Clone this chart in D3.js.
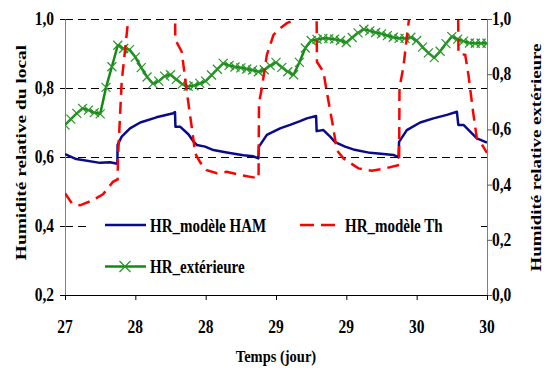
<!DOCTYPE html>
<html>
<head>
<meta charset="utf-8">
<script src="https://cdn.jsdelivr.net/npm/d3@7"></script>
<style>
html,body{margin:0;padding:0;background:#fff;}
svg{display:block;}
text{font-family:"Liberation Serif","Times New Roman",serif;font-weight:bold;fill:#000;}
</style>
</head>
<body>
<svg id="chart" width="551" height="370"></svg>
<script>
// ---------- data ----------
const xTickValues = [27, 27.5, 28, 28.5, 29, 29.5, 30];
const xTickLabels = ["27", "28", "28", "29", "29", "30", "30"];
const leftTickValues = [0.2, 0.4, 0.6, 0.8, 1.0];
const leftTickLabels = ["0,2", "0,4", "0,6", "0,8", "1,0"];
const rightTickValues = [0, 0.2, 0.4, 0.6, 0.8, 1.0];
const rightTickLabels = ["0,0", "0,2", "0,4", "0,6", "0,8", "1,0"];
const gridValues = [0.4, 0.6, 0.8, 1.0];

// HR_modèle HAM (left axis)
const hamTime = [27.000, 27.080, 27.249, 27.320, 27.355, 27.372, 27.374, 27.403, 27.462, 27.535, 27.650, 27.770, 27.782,
  27.785, 27.818, 27.877, 27.913, 27.937, 27.996, 28.055, 28.150, 28.268, 28.339, 28.375,
  28.379, 28.435, 28.529, 28.600, 28.671, 28.719, 28.785,
  28.789, 28.837, 28.885, 28.920, 28.991, 29.050, 29.169, 29.264, 29.335, 29.371,
  29.375, 29.430, 29.525, 29.619, 29.715, 29.786,
  29.796, 29.833, 29.928, 30.000];
const hamValue = [0.608, 0.594, 0.583, 0.585, 0.582, 0.580, 0.635, 0.659, 0.683, 0.700, 0.715, 0.727, 0.730,
  0.688, 0.688, 0.666, 0.645, 0.635, 0.630, 0.620, 0.613, 0.605, 0.602, 0.596,
  0.630, 0.664, 0.683, 0.693, 0.704, 0.712, 0.719,
  0.675, 0.678, 0.659, 0.643, 0.630, 0.622, 0.612, 0.609, 0.606, 0.599,
  0.644, 0.678, 0.700, 0.712, 0.722, 0.731,
  0.693, 0.693, 0.654, 0.642];

// HR_modèle Th (left axis)
const thTime = [27.000, 27.050, 27.107, 27.199, 27.270, 27.306, 27.341, 27.374, 27.377, 27.403, 27.450, 27.500,
  27.781, 27.784, 27.830, 27.866, 27.912, 27.925, 27.960, 28.008, 28.079, 28.150, 28.245, 28.339, 28.376,
  28.379, 28.399, 28.435, 28.482, 28.529, 28.577, 28.648, 28.700,
  28.788, 28.791, 28.837, 28.861, 28.908, 28.932, 28.979, 29.086, 29.181, 29.276, 29.375,
  29.378, 29.406, 29.442, 29.468,
  29.794, 29.797, 29.845, 29.868, 29.904, 29.928, 29.952, 30.000];
const thValue = [0.495, 0.465, 0.460, 0.475, 0.492, 0.510, 0.528, 0.535, 0.600, 0.818, 1.000, 1.100,
  1.100, 0.940, 0.905, 0.789, 0.654, 0.611, 0.585, 0.562, 0.553, 0.557, 0.548, 0.541, 0.538,
  0.756, 0.799, 0.896, 0.954, 0.973, 0.988, 1.000, 1.060,
  1.060, 0.876, 0.847, 0.789, 0.683, 0.620, 0.596, 0.567, 0.560, 0.567, 0.577,
  0.800, 0.862, 0.988, 1.060,
  1.060, 0.900, 0.896, 0.838, 0.722, 0.654, 0.644, 0.612];

// HR_extérieure (right axis), hourly readings from day 27 to day 30
const extValue = [0.616, 0.637, 0.658, 0.676, 0.670, 0.661, 0.656, 0.752, 0.827, 0.905, 0.893, 0.889,
  0.862, 0.824, 0.790, 0.766, 0.775, 0.793, 0.798, 0.781, 0.764, 0.756, 0.758, 0.767,
  0.775, 0.797, 0.818, 0.839, 0.832, 0.826, 0.823, 0.819, 0.815, 0.809, 0.816, 0.831,
  0.843, 0.825, 0.809, 0.798, 0.843, 0.895, 0.922, 0.926, 0.930, 0.929, 0.927, 0.922,
  0.915, 0.933, 0.950, 0.963, 0.957, 0.951, 0.946, 0.940, 0.934, 0.930, 0.930, 0.934,
  0.922, 0.898, 0.877, 0.860, 0.883, 0.911, 0.936, 0.927, 0.920, 0.913, 0.912, 0.912, 0.912];
const extTime = d3.range(extValue.length).map(i => 27 + i / 24);

const legendLabels = ["HR_modèle HAM", "HR_modèle Th", "HR_extérieure"];

// ---------- drawing ----------
const svg = d3.select("#chart");
const L = 65, R = 487, T = 19, B = 295;
const FS = 15.5, SY = 1.25;
const x = d3.scaleLinear().domain([27, 30]).range([L, R]);
const yL = d3.scaleLinear().domain([0.2, 1.0]).range([B, T]);
const yR = d3.scaleLinear().domain([0, 1.0]).range([B, T]);

const COL_HAM = "#0a0a8c", COL_TH = "#ff0000", COL_EXT = "#138a13";

function stext(g, px, py, txt, anchor, rot, sx, sy, size) {
  return g.append("text")
    .attr("transform", `translate(${px},${py}) rotate(${rot || 0}) scale(${sx || 1},${sy || SY})`)
    .attr("text-anchor", anchor || "start")
    .style("font-size", (size || FS) + "px")
    .text(txt);
}

svg.append("defs").append("clipPath").attr("id", "clip")
  .append("rect").attr("x", L).attr("y", T).attr("width", R - L).attr("height", B - T);

// grid
svg.append("g").selectAll("line").data(gridValues).join("line")
  .attr("x1", L).attr("x2", R)
  .attr("y1", d => Math.round(yL(d)) + 0.5).attr("y2", d => Math.round(yL(d)) + 0.5)
  .attr("stroke", "#000").attr("stroke-width", 1).attr("stroke-dasharray", "8,5");

// legend background (drawn before the series? no - after grid, covering grid)
svg.append("rect").attr("x", 90).attr("y", 209).attr("width", 388).attr("height", 72).attr("fill", "#fff");

// axes
const axL = svg.append("g").attr("transform", `translate(${L},0)`)
  .call(d3.axisLeft(yL).tickValues(leftTickValues).tickSize(5).tickFormat(""));
axL.select(".domain").attr("stroke", "#808080");
axL.selectAll(".tick line").attr("stroke", "#000");
const axR = svg.append("g").attr("transform", `translate(${R},0)`)
  .call(d3.axisRight(yR).tickValues(rightTickValues).tickSize(5).tickFormat(""));
axR.select(".domain").attr("stroke", "#808080");
axR.selectAll(".tick line").attr("stroke", "#555");
const axB = svg.append("g").attr("transform", `translate(0,${B})`)
  .call(d3.axisBottom(x).tickValues(xTickValues).tickSize(5).tickFormat(""));
axB.select(".domain").attr("stroke", "#000");
axB.selectAll(".tick line").attr("stroke", "#000");

// tick labels
const tl = svg.append("g");
leftTickValues.forEach((v, i) => stext(tl, 54, yL(v) + 6, leftTickLabels[i], "end"));
rightTickValues.forEach((v, i) => stext(tl, 492, yR(v) + 6, rightTickLabels[i], "start"));
xTickValues.forEach((v, i) => stext(tl, x(v), 332.5, xTickLabels[i], "middle"));

// axis titles
stext(svg, 276, 362, "Temps (jour)", "middle", 0, 1, 1.2, 14.5);
stext(svg, 26, 152.5, "Humidité relative du local", "middle", -90, 1.25, 1, 15.5);
stext(svg, 541, 157.5, "Humidité relative extérieure", "middle", -90, 1.22, 1, 15.5);

// series
const plot = svg.append("g").attr("clip-path", "url(#clip)");
const lineL = d3.line().x(d => x(d[0])).y(d => yL(d[1]));
const lineR = d3.line().x(d => x(d[0])).y(d => yR(d[1]));

plot.append("path").datum(d3.zip(extTime, extValue)).attr("d", lineR)
  .attr("fill", "none").attr("stroke", COL_EXT).attr("stroke-width", 2.5).attr("stroke-linejoin", "round");
const xm = 4.5;
plot.append("g").selectAll("path").data(d3.zip(extTime, extValue)).join("path")
  .attr("d", d => { const cx = x(d[0]), cy = yR(d[1]);
    return `M${cx - xm},${cy - xm}L${cx + xm},${cy + xm}M${cx - xm},${cy + xm}L${cx + xm},${cy - xm}`; })
  .attr("stroke", "#2a962a").attr("stroke-width", 1.2).attr("fill", "none");

plot.append("path").datum(d3.zip(hamTime, hamValue)).attr("d", lineL)
  .attr("fill", "none").attr("stroke", COL_HAM).attr("stroke-width", 2.5).attr("stroke-linejoin", "round");

plot.append("path").datum(d3.zip(thTime, thValue)).attr("d", lineL)
  .attr("fill", "none").attr("stroke", COL_TH).attr("stroke-width", 2.5).attr("stroke-dasharray", "12,7");

// legend
const lg = svg.append("g");
lg.append("line").attr("x1", 105).attr("x2", 146).attr("y1", 225).attr("y2", 225)
  .attr("stroke", COL_HAM).attr("stroke-width", 2.5);
stext(lg, 150, 231.5, legendLabels[0], "start", 0, 1, SY, 15);
lg.append("line").attr("x1", 300).attr("x2", 336).attr("y1", 225).attr("y2", 225)
  .attr("stroke", COL_TH).attr("stroke-width", 2.5).attr("stroke-dasharray", "14,7");
stext(lg, 345, 231.5, legendLabels[1], "start", 0, 1, SY, 15);
lg.append("line").attr("x1", 105).attr("x2", 146).attr("y1", 266.5).attr("y2", 266.5)
  .attr("stroke", COL_EXT).attr("stroke-width", 2.5);
lg.append("path")
  .attr("d", `M${125 - 5.5},${266.5 - 5.5}L${125 + 5.5},${266.5 + 5.5}M${125 - 5.5},${266.5 + 5.5}L${125 + 5.5},${266.5 - 5.5}`)
  .attr("stroke", "#2a962a").attr("stroke-width", 1.3);
stext(lg, 150, 272.5, legendLabels[2], "start", 0, 1, SY, 15);
</script>
</body>
</html>
